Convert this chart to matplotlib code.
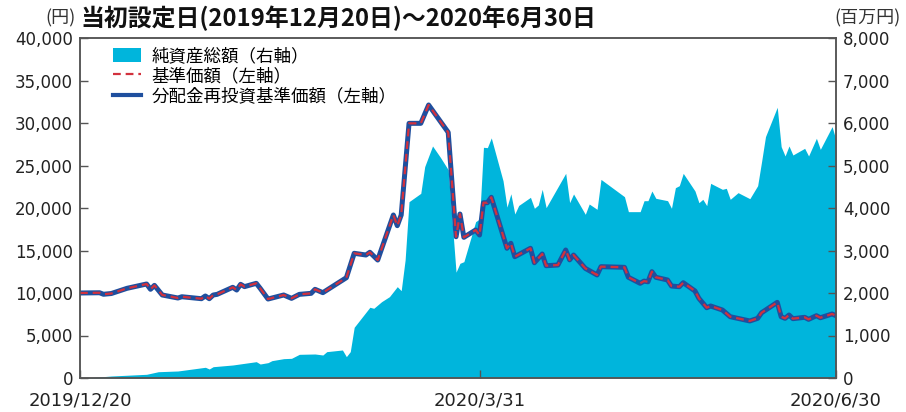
import matplotlib
matplotlib.use("Agg")
import matplotlib.pyplot as plt
import pandas as pd
from matplotlib.patches import Patch
from matplotlib.lines import Line2D

plt.rcParams["font.family"] = ["DejaVu Sans", "Noto Sans CJK JP"]

# 基準価額 (円)
nav_dates = [
    "2019-12-20", "2019-12-25", "2019-12-26", "2019-12-28", "2020-01-01", "2020-01-06",
    "2020-01-07", "2020-01-08", "2020-01-10", "2020-01-14", "2020-01-15", "2020-01-20",
    "2020-01-21", "2020-01-22", "2020-01-23", "2020-01-24", "2020-01-28", "2020-01-29",
    "2020-01-30", "2020-01-31", "2020-02-03", "2020-02-04", "2020-02-06", "2020-02-10",
    "2020-02-12", "2020-02-14", "2020-02-17", "2020-02-18", "2020-02-20", "2020-02-24",
    "2020-02-26", "2020-02-28", "2020-03-02", "2020-03-03", "2020-03-05", "2020-03-09",
    "2020-03-10", "2020-03-11", "2020-03-13", "2020-03-16", "2020-03-18", "2020-03-23",
    "2020-03-25", "2020-03-26", "2020-03-27", "2020-03-30", "2020-03-31", "2020-04-01",
    "2020-04-02", "2020-04-03", "2020-04-07", "2020-04-08", "2020-04-09", "2020-04-13",
    "2020-04-14", "2020-04-16", "2020-04-17", "2020-04-20", "2020-04-22", "2020-04-23",
    "2020-04-24", "2020-04-27", "2020-04-30", "2020-05-01", "2020-05-07", "2020-05-08",
    "2020-05-11", "2020-05-12", "2020-05-13", "2020-05-14", "2020-05-15", "2020-05-18",
    "2020-05-19", "2020-05-21", "2020-05-22", "2020-05-25", "2020-05-26", "2020-05-28",
    "2020-05-29", "2020-06-01", "2020-06-03", "2020-06-08", "2020-06-10", "2020-06-11",
    "2020-06-15", "2020-06-16", "2020-06-17", "2020-06-18", "2020-06-19", "2020-06-22",
    "2020-06-23", "2020-06-25", "2020-06-26", "2020-06-29", "2020-06-30",
]
nav_values = [
    10000, 10030, 9850, 9940, 10550, 11060,
    10435, 10900, 9765, 9410, 9560, 9330,
    9650, 9330, 9760, 9840, 10670, 10350,
    11020, 10750, 11140, 10550, 9290, 9765,
    9370, 9840, 9960, 10435, 10040, 11215,
    11800, 14670, 14470, 14790, 13880, 19180,
    17920, 19180, 29960, 29960, 32120, 28900,
    16620, 19290, 16550, 17410, 16820, 20620,
    20620, 21260, 15260, 15850, 14270, 15260,
    13560, 14590, 13210, 13290, 15060, 13900,
    14470, 12900, 12120, 13100, 13020, 11850,
    11140, 11400, 11320, 12510, 11850, 11530,
    10820, 10740, 11210, 10240, 9370, 8270,
    8470, 8000, 7210, 6710, 7020, 7680,
    8900, 7210, 7020, 7410, 6980, 7140,
    6900, 7330, 7090, 7530, 7330,
]
# 分配金再投資基準価額 (円): no distributions, same as 基準価額
reinvest_values = list(nav_values)

# 純資産総額 (百万円)
aum_dates = [
    "2019-12-20", "2019-12-23", "2019-12-28", "2020-01-06", "2020-01-09", "2020-01-14",
    "2020-01-21", "2020-01-22", "2020-01-23", "2020-01-28", "2020-02-03", "2020-02-04",
    "2020-02-06", "2020-02-07", "2020-02-10", "2020-02-12", "2020-02-14", "2020-02-18",
    "2020-02-20", "2020-02-21", "2020-02-25", "2020-02-26", "2020-02-27", "2020-02-28",
    "2020-03-03", "2020-03-04", "2020-03-06", "2020-03-08", "2020-03-10", "2020-03-11",
    "2020-03-12", "2020-03-13", "2020-03-16", "2020-03-17", "2020-03-19", "2020-03-21",
    "2020-03-23", "2020-03-25", "2020-03-26", "2020-03-27", "2020-03-30", "2020-03-31",
    "2020-04-01", "2020-04-02", "2020-04-03", "2020-04-06", "2020-04-07", "2020-04-08",
    "2020-04-09", "2020-04-10", "2020-04-13", "2020-04-14", "2020-04-15", "2020-04-16",
    "2020-04-17", "2020-04-22", "2020-04-23", "2020-04-24", "2020-04-27", "2020-04-28",
    "2020-04-30", "2020-05-01", "2020-05-07", "2020-05-08", "2020-05-11", "2020-05-12",
    "2020-05-13", "2020-05-14", "2020-05-15", "2020-05-18", "2020-05-19", "2020-05-20",
    "2020-05-21", "2020-05-22", "2020-05-25", "2020-05-26", "2020-05-27", "2020-05-28",
    "2020-05-29", "2020-06-01", "2020-06-02", "2020-06-03", "2020-06-05", "2020-06-08",
    "2020-06-10", "2020-06-11", "2020-06-12", "2020-06-15", "2020-06-16", "2020-06-17",
    "2020-06-18", "2020-06-19", "2020-06-22", "2020-06-23", "2020-06-25", "2020-06-26",
    "2020-06-29", "2020-06-30",
]
aum_values = [
    5, 10, 47, 87, 148, 165,
    252, 212, 266, 306, 384, 329,
    361, 408, 455, 463, 557, 565,
    541, 620, 659, 502, 620, 1193,
    1664, 1640, 1796, 1914, 2149, 2055,
    2777, 4149, 4345, 4973, 5459, 5192,
    4900, 2490, 2699, 2737, 3678, 3740,
    5428, 5420, 5650, 4640, 4020, 4335,
    3859, 4060, 4251, 3993, 4071, 4439,
    4008, 4816, 4126, 4330, 3851, 4094,
    3969, 4673, 4266, 3914, 3914, 4172,
    4172, 4400, 4228, 4172, 3993, 4478,
    4525, 4815, 4400, 4125, 4204, 4055,
    4580, 4439, 4463, 4204, 4361, 4219,
    4525, 5090, 5679, 6370, 5443, 5224,
    5459, 5247, 5404, 5224, 5640, 5380,
    5914, 5600,
]

x_ticks = ["2019-12-20", "2020-03-31", "2020-06-30"]
x_tick_labels = ["2019/12/20", "2020/3/31", "2020/6/30"]
left_ticks = list(range(0, 40001, 5000))
right_ticks = list(range(0, 8001, 1000))

legend_labels = ["純資産総額（右軸）", "基準価額（左軸）", "分配金再投資基準価額（左軸）"]
title = "当初設定日(2019年12月20日)～2020年6月30日"

AREA = "#00b5dc"
BLUE = "#1f4f9e"
RED = "#d2313d"
SPINE = "#555555"
CJK = ["Noto Sans CJK JP", "DejaVu Sans"]

fig = plt.figure(figsize=(9.06, 4.12), dpi=100)
ax = fig.add_axes([80 / 906, 34 / 412, 756 / 906, 340 / 412])
ax_r = ax.twinx()
ax.set_zorder(ax_r.get_zorder() + 1)
ax.patch.set_visible(False)

ax_r.fill_between(pd.to_datetime(aum_dates), aum_values, color=AREA, linewidth=0)
ax.plot(pd.to_datetime(nav_dates), reinvest_values, color=BLUE, linewidth=3.6,
        solid_joinstyle="round")
ax.plot(pd.to_datetime(nav_dates), nav_values, color=RED, linewidth=1.6,
        dashes=(3.5, 2.2))

ax.set_xlim(pd.Timestamp(x_ticks[0]), pd.Timestamp(x_ticks[-1]))
ax.set_ylim(0, 40000)
ax_r.set_ylim(0, 8000)

ax.set_xticks(pd.to_datetime(x_ticks))
ax.set_xticklabels(x_tick_labels, fontsize=13, color="#222222")
ax.set_yticks(left_ticks)
ax.set_yticklabels([f"{v:,}" for v in left_ticks], fontsize=12, color="#222222")
ax_r.set_yticks(right_ticks)
ax_r.set_yticklabels([f"{v:,}" for v in right_ticks], fontsize=12, color="#222222")

ax.tick_params(axis="both", direction="in", length=6, width=1, color=SPINE, pad=5)
ax.tick_params(axis="x", pad=10)
ax_r.tick_params(axis="y", direction="in", length=6, width=1, color=SPINE, pad=5)

for a in (ax, ax_r):
    for s in a.spines.values():
        s.set_color(SPINE)
        s.set_linewidth(1.1)

handles = [
    Patch(facecolor=AREA, edgecolor="none"),
    Line2D([], [], color=RED, linewidth=1.6, dashes=(3.5, 2.2)),
    Line2D([], [], color=BLUE, linewidth=3.0),
]
ax.legend(handles, legend_labels, loc="upper left", bbox_to_anchor=(0.027, 1.01),
          frameon=False, prop={"family": CJK, "size": 12.6}, handlelength=1.6,
          handleheight=0.85, labelspacing=0.12, handletextpad=0.6, borderaxespad=0.3)

fig.text(80 / 906, 1 - 18 / 412, title, fontsize=17.2, fontweight="bold",
         family=CJK, va="center", ha="left", color="#111111")
fig.text(76 / 906, 1 - 18 / 412, "(円)", fontsize=13, family=CJK,
         va="center", ha="right", color="#333333")
fig.text(834 / 906, 1 - 18 / 412, "(百万円)", fontsize=13, family=CJK,
         va="center", ha="left", color="#333333")

fig.savefig("out.png", dpi=100)
plt.close(fig)
